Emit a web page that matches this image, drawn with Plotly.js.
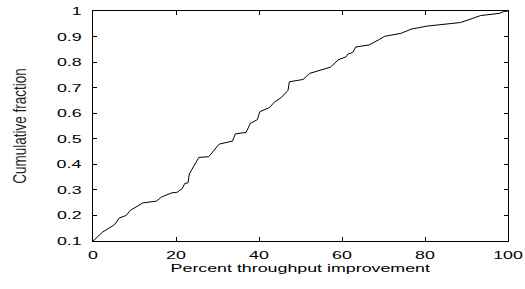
<!DOCTYPE html>
<html>
<head>
<meta charset="utf-8">
<script src="https://cdn.plot.ly/plotly-3.0.1.min.js"></script>
<style>
  html, body { margin: 0; padding: 0; background: #fff; }
  #chart { width: 525px; height: 289px; }
</style>
</head>
<body>
<div id="chart"></div>
<script>
// Percent throughput improvement (x) vs cumulative fraction (y)
const improvement = [0, 2.4, 5.2, 6.3, 8.0, 9.0, 12.0, 15.3, 16.5, 18.9, 20.3, 21.5, 22.1, 22.9, 23.2, 24.3, 25.5, 27.9, 28.9, 30.4, 33.6, 34.3, 36.9, 37.9, 39.6, 40.2, 42.6, 43.6, 45.4, 46.5, 47.0, 47.3, 50.6, 52.2, 57.2, 59.1, 61.0, 61.4, 62.6, 63.3, 66.5, 68.7, 70.3, 74.3, 76.7, 80.5, 88.6, 93.4, 98.0, 99.0, 100];
const cumulative = [0.1, 0.136, 0.164, 0.19, 0.2, 0.22, 0.249, 0.256, 0.272, 0.288, 0.291, 0.305, 0.325, 0.328, 0.362, 0.395, 0.427, 0.43, 0.45, 0.479, 0.491, 0.519, 0.525, 0.56, 0.575, 0.606, 0.623, 0.642, 0.662, 0.684, 0.69, 0.723, 0.732, 0.756, 0.78, 0.809, 0.821, 0.831, 0.838, 0.859, 0.867, 0.886, 0.901, 0.913, 0.929, 0.941, 0.955, 0.982, 0.991, 0.998, 1.0];

const xTickVals = [0, 20, 40, 60, 80, 100];
const xTickText = ['0', '20', '40', '60', '80', '100'];
const yTickVals = [0.1, 0.2, 0.3, 0.4, 0.5, 0.6, 0.7, 0.8, 0.9, 1];
const yTickText = ['0.1', '0.2', '0.3', '0.4', '0.5', '0.6', '0.7', '0.8', '0.9', '1'];

const FONT = '"Liberation Sans", Arial, Helvetica, sans-serif';

const trace = {
  x: improvement,
  y: cumulative,
  type: 'scatter',
  mode: 'lines',
  line: { color: '#000', width: 1 },
  hoverinfo: 'skip'
};

const axisCommon = {
  showgrid: false,
  zeroline: false,
  showline: true,
  linecolor: '#000',
  linewidth: 1,
  mirror: 'ticks',
  ticks: 'inside',
  ticklen: 4,
  tickwidth: 1,
  tickcolor: '#000',
  tickfont: { family: FONT, size: 11.5, color: '#000' },
  tickmode: 'array',
  fixedrange: true
};

const layout = {
  width: 525,
  height: 289,
  margin: { l: 93, r: 17, t: 11, b: 48 },
  paper_bgcolor: '#fff',
  plot_bgcolor: '#fff',
  showlegend: false,
  font: { family: FONT, color: '#000' },
  xaxis: Object.assign({}, axisCommon, {
    range: [0, 100],
    tickvals: xTickVals,
    ticktext: xTickText,
    ticklabelstandoff: 3,
    title: { text: 'Percent throughput improvement', font: { family: FONT, size: 11.5, color: '#000' }, standoff: 0 }
  }),
  yaxis: Object.assign({}, axisCommon, {
    range: [0.1, 1],
    tickvals: yTickVals,
    ticktext: yTickText,
    ticklabelstandoff: 8,
    title: { text: 'Cumulative fraction', font: { family: FONT, size: 13.5, color: '#222' }, standoff: 37 }
  })
};

// The reference text is horizontally stretched; widen the real text glyphs.
function widen(selector, s, mode, dy) {
  document.querySelectorAll(selector).forEach(function (t) {
    const bb = t.getBBox();
    const base = t.getAttribute('transform') || '';
    let extra;
    if (mode === 'center') {
      const cx = bb.x + bb.width / 2;
      extra = 'translate(' + cx + ',' + (dy || 0) + ') scale(' + s + ',1) translate(' + (-cx) + ',0)';
    } else if (mode === 'right') {
      const rx = bb.x + bb.width;
      extra = 'translate(' + rx + ',0) scale(' + s + ',1) translate(' + (-rx) + ',0)';
    } else { // rotated text: stretch along local y
      const cy = bb.y + bb.height / 2;
      extra = 'translate(0,' + cy + ') scale(1,' + s + ') translate(0,' + (-cy) + ')';
    }
    t.setAttribute('transform', (base + ' ' + extra).trim());
  });
}

Plotly.newPlot('chart', [trace], layout, { staticPlot: true, displayModeBar: false }).then(function () {
  widen('.xtick text', 1.55, 'center');
  widen('.ytick text', 1.55, 'right');
  widen('text.xtitle', 1.55, 'center', 1);
  widen('text.ytitle', 1.4, 'rot');
});
</script>
</body>
</html>
